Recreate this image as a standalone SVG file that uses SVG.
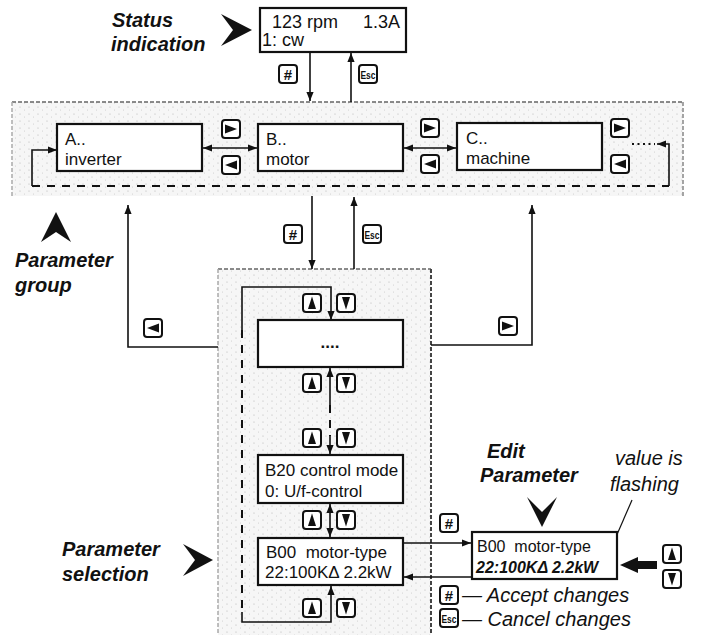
<svg xmlns="http://www.w3.org/2000/svg" xmlns:xlink="http://www.w3.org/1999/xlink" width="702" height="635" viewBox="0 0 702 635">
<style>
.box{fill:#fff;stroke:#111;stroke-width:2.2}
.t{font-family:"Liberation Sans",Arial,sans-serif;font-size:17px;fill:#111}
.lbl{font-family:"Liberation Sans",Arial,sans-serif;font-size:20px;font-weight:bold;font-style:italic;fill:#111}
.it{font-family:"Liberation Sans",Arial,sans-serif;font-size:20px;font-style:italic;fill:#111}
.ln{fill:none;stroke:#111;stroke-width:1.6}
.arr{marker-end:url(#ah)}
.dash{stroke-dasharray:8 7;stroke-width:2}
.area{fill:url(#sp)}
.edge{fill:none;stroke:#888;stroke-width:1.5;stroke-dasharray:4 2}
.ktxt{font-family:"Liberation Sans",Arial,sans-serif;font-weight:bold;fill:#111;text-anchor:middle}
</style>
<defs>
<pattern id="sp" width="9" height="7" patternUnits="userSpaceOnUse">
<rect width="9" height="7" fill="#f6f6f6"/>
<circle cx="2" cy="2" r="0.6" fill="#b5b5b5"/>
<circle cx="6.5" cy="5" r="0.5" fill="#c8c8c8"/>
</pattern>
<marker id="ah" viewBox="0 0 10 10" refX="10" refY="5" markerWidth="9" markerHeight="9" markerUnits="userSpaceOnUse" orient="auto-start-reverse">
<path d="M0,1 L10,5 L0,9 z" fill="#111"/>
</marker>
<g id="kb"><rect x="1" y="1" width="18" height="18" rx="3" fill="#fff" stroke="#111" stroke-width="2"/></g>
<g id="kUp"><use xlink:href="#kb"/><polygon points="10,3.5 14,16 6,16" fill="#111"/></g>
<g id="kDn"><use xlink:href="#kb"/><polygon points="6,4 14,4 10,16.5" fill="#111"/></g>
<g id="kR"><use xlink:href="#kb"/><polygon points="4,5.5 16,10 4,14.5" fill="#111"/></g>
<g id="kL"><use xlink:href="#kb"/><polygon points="16,5.5 4,10 16,14.5" fill="#111"/></g>
<g id="kH"><use xlink:href="#kb"/><text x="10" y="15.5" class="ktxt" font-size="15">#</text></g>
<g id="kE"><use xlink:href="#kb"/><text x="10" y="14.5" class="ktxt" font-size="11" textLength="15" lengthAdjust="spacingAndGlyphs">Esc</text></g>
</defs>
<rect width="702" height="635" fill="#fff"/>

<g id="areas">
<rect class="area" x="12" y="102" width="671" height="94"/>
<line class="edge" x1="12" y1="102" x2="683" y2="102" style="stroke:#666"/>
<line class="edge" x1="683" y1="102" x2="683" y2="196"/>
<line class="edge" x1="12" y1="102" x2="12" y2="196" style="stroke:#aaa"/>
<rect class="area" x="218" y="269" width="213" height="366"/>
<line class="edge" x1="218" y1="269" x2="431" y2="269" style="stroke:#666"/>
<line class="edge" x1="431" y1="269" x2="431" y2="635" style="stroke:#444;stroke-width:2"/>
<line class="edge" x1="218" y1="269" x2="218" y2="635" style="stroke:#aaa"/>
</g>

<g id="labels">
<text class="lbl" x="112" y="27">Status</text>
<text class="lbl" x="111" y="51">indication</text>
<polygon points="221,14 252,30 221,46 233,30" fill="#111"/>
<text class="lbl" x="15" y="267">Parameter</text>
<text class="lbl" x="15" y="292">group</text>
<polygon points="56,212 71,242 56,232 41,242" fill="#111"/>
<text class="lbl" x="62" y="556">Parameter</text>
<text class="lbl" x="62" y="581">selection</text>
<polygon points="183,544 213,560 183,576 195,560" fill="#111"/>
<text class="lbl" x="487" y="458">Edit</text>
<text class="lbl" x="480" y="482">Parameter</text>
<polygon points="527,497 542,512 557,497 542,527" fill="#111"/>
<text class="it" x="615" y="465">value is</text>
<text class="it" x="610" y="491">flashing</text>
</g>

<g id="connectors">
<line class="ln arr" x1="310" y1="52" x2="310" y2="101"/>
<line class="ln arr" x1="351" y1="102" x2="351" y2="53"/>
<path class="ln arr" d="M32,186 L32,150 L57,150"/>
<line class="ln dash" x1="32" y1="186" x2="669" y2="186"/>
<path class="ln arr" d="M669,186 L669,144 L657,144"/>
<line class="ln" x1="632" y1="144" x2="655" y2="144" style="stroke-dasharray:2 3.5;stroke-width:2"/>
<line class="ln arr" x1="203" y1="148" x2="257" y2="148" style="marker-start:url(#ah)"/>
<line class="ln arr" x1="404" y1="148" x2="456" y2="148" style="marker-start:url(#ah)"/>
<line class="ln arr" x1="312" y1="196" x2="312" y2="269"/>
<line class="ln arr" x1="354" y1="269" x2="354" y2="197"/>
<path class="ln arr" d="M218,347 L128,347 L128,205"/>
<path class="ln arr" d="M431,345 L532,345 L532,205"/>
<path class="ln arr" d="M242,330 L242,287 L331,287 L331,320"/>
<line class="ln dash" x1="242" y1="330" x2="242" y2="612"/>
<path class="ln arr" d="M242,612 L242,622 L331,622 L331,586"/>
<line class="ln arr" x1="330" y1="405" x2="330" y2="368"/>
<line class="ln dash" x1="330" y1="405" x2="330" y2="436"/>
<line class="ln arr" x1="330" y1="436" x2="330" y2="454"/>
<line class="ln arr" x1="330" y1="504" x2="330" y2="537" style="marker-start:url(#ah)"/>
<line class="ln arr" x1="403" y1="543" x2="471" y2="543"/>
<line class="ln arr" x1="472" y1="577" x2="404" y2="577"/>
<line class="ln arr" x1="632" y1="500" x2="609" y2="553" style="stroke-width:1.2"/>
<polygon points="620,565 638,557 638,561 657,561 657,569 638,569 638,573" fill="#111"/>
</g>

<g id="keys">
<use xlink:href="#kH" x="278" y="64"/>
<use xlink:href="#kE" x="358" y="64"/>
<use xlink:href="#kR" x="221" y="119"/>
<use xlink:href="#kL" x="221" y="155"/>
<use xlink:href="#kR" x="420" y="118"/>
<use xlink:href="#kL" x="420" y="154"/>
<use xlink:href="#kR" x="610" y="118"/>
<use xlink:href="#kL" x="610" y="154"/>
<use xlink:href="#kH" x="283" y="224"/>
<use xlink:href="#kE" x="362" y="224"/>
<use xlink:href="#kL" x="143" y="318"/>
<use xlink:href="#kR" x="498" y="316"/>
<use xlink:href="#kUp" x="302" y="293"/>
<use xlink:href="#kDn" x="336" y="293"/>
<use xlink:href="#kUp" x="302" y="373"/>
<use xlink:href="#kDn" x="336" y="373"/>
<use xlink:href="#kUp" x="302" y="428"/>
<use xlink:href="#kDn" x="336" y="428"/>
<use xlink:href="#kUp" x="302" y="510"/>
<use xlink:href="#kDn" x="336" y="510"/>
<use xlink:href="#kUp" x="302" y="598"/>
<use xlink:href="#kDn" x="336" y="598"/>
<use xlink:href="#kH" x="439" y="513"/>
<use xlink:href="#kUp" x="662" y="544"/>
<use xlink:href="#kDn" x="662" y="569"/>
<use xlink:href="#kH" x="439" y="585"/>
<use xlink:href="#kE" x="439" y="608"/>
<text class="it" x="462" y="602">— Accept changes</text>
<text class="it" x="462" y="626">— Cancel changes</text>
</g>

<g id="status">
<rect class="box" x="260" y="8" width="146" height="44"/>
<text class="t" x="272" y="28" style="font-size:18px">123 rpm</text>
<text class="t" x="363" y="28" style="font-size:18px">1.3A</text>
<text class="t" x="262" y="46" style="font-size:18px">1: cw</text>
</g>
<g id="groupA">
<rect class="box" x="57" y="124" width="145" height="47"/>
<text class="t" x="65" y="145">A..</text>
<text class="t" x="65" y="165">inverter</text>
</g>
<g id="groupB">
<rect class="box" x="258" y="124" width="145" height="47"/>
<text class="t" x="266" y="145">B..</text>
<text class="t" x="266" y="165">motor</text>
</g>
<g id="groupC">
<rect class="box" x="457" y="123" width="145" height="47"/>
<text class="t" x="466" y="144">C..</text>
<text class="t" x="466" y="164">machine</text>
</g>
<g id="paramDots">
<rect class="box" x="258" y="320" width="145" height="47"/>
<text class="t" x="330" y="348" text-anchor="middle" font-weight="bold" font-size="14">....</text>
</g>
<g id="paramB20">
<rect class="box" x="258" y="455" width="145" height="48"/>
<text class="t" x="265" y="476">B20 control mode</text>
<text class="t" x="265" y="497">0: U/f-control</text>
</g>
<g id="paramB00">
<rect class="box" x="258" y="538" width="145" height="47"/>
<text class="t" x="266" y="558">B00&#160; motor-type</text>
<text class="t" x="265" y="578">22:100KΔ 2.2kW</text>
</g>
<g id="edit">
<rect class="box" x="472" y="532" width="145" height="47"/>
<text class="t" x="477" y="552" style="font-size:16px">B00&#160; motor-type</text>
<text class="t" x="476" y="573" style="font-size:16px;font-weight:bold;font-style:italic">22:100KΔ 2.2kW</text>
</g>
</svg>
